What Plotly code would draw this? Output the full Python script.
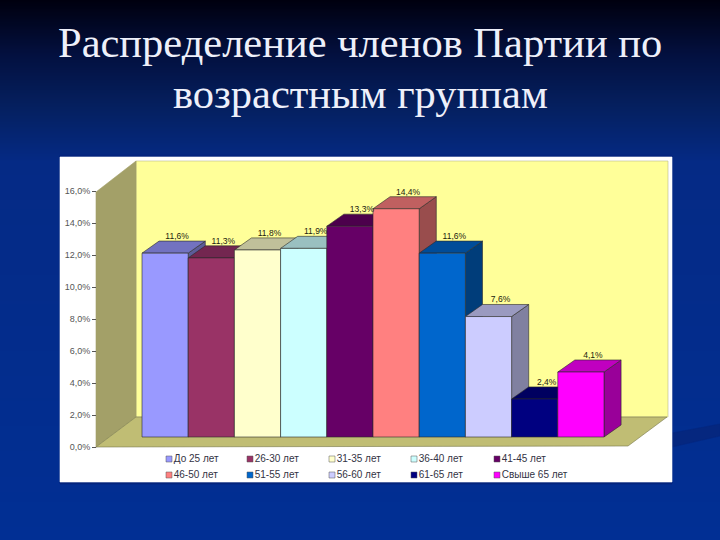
import plotly.graph_objects as go

categories = ["До 25 лет", "26-30 лет", "31-35 лет", "36-40 лет", "41-45 лет",
              "46-50 лет", "51-55 лет", "56-60 лет", "61-65 лет", "Свыше 65 лет"]
values = [11.6, 11.3, 11.8, 11.9, 13.3, 14.4, 11.6, 7.6, 2.4, 4.1]
value_labels = ["11,6%", "11,3%", "11,8%", "11,9%", "13,3%", "14,4%", "11,6%", "7,6%", "2,4%", "4,1%"]
front_colors = ["#9999ff", "#993366", "#ffffcc", "#ccffff", "#660066",
                "#ff8080", "#0066cc", "#ccccff", "#000080", "#ff00ff"]
top_colors = ["#7272c0", "#732650", "#c0c09a", "#9ac0c0", "#4c004c",
              "#c06060", "#004c99", "#9a9ac0", "#000060", "#c000c0"]
side_colors = ["#5c5c99", "#5c1f3d", "#99997a", "#7a9999", "#3d003d",
               "#994d4d", "#003d7a", "#8080a0", "#00004d", "#990099"]
y_ticks = [0, 2, 4, 6, 8, 10, 12, 14, 16]
y_tick_labels = ["0,0%", "2,0%", "4,0%", "6,0%", "8,0%", "10,0%", "12,0%", "14,0%", "16,0%"]
bg_stops = [[0, "#00000f"], [0.1, "#03103f"], [0.2, "#052060"], [0.3, "#052a85"], [1, "#012f94"]]
legend_cols = [169, 250, 332, 414, 497]
legend_rows = [459, 475]
depth_x = 0.37
depth_y = 0.76

W, H = 720, 540
EDGE = "#2a2a2a"
BAR_W = 46.2       # pixels per category
BAR_PX_PCT = 15.85 # pixels per percent on the bar plane
AXIS_PX_PCT = 16   # pixels per percent on the front axis

def py(y): return 1 - y / H

fig = go.Figure()

# page background gradient (pixel-scaled base axes)
fig.add_trace(go.Heatmap(z=[[r] for r in range(H)], x0=W / 2, dx=W, y0=0.5, dy=1,
                         colorscale=bg_stops, showscale=False, hoverinfo="skip", xaxis="x", yaxis="y"))

def poly(xs, ys, color, line=None):
    fig.add_trace(go.Scatter(x=xs + xs[:1], y=ys + ys[:1], fill="toself", mode="lines", fillcolor=color,
                             line=dict(color=line or color, width=0.6), showlegend=False,
                             hoverinfo="skip", xaxis="x", yaxis="y"))

poly([672, 720, 720, 672], [433, 424, 436, 447], "#05277f")
poly([60, 672, 672, 60], [484, 484, 155, 155], "#04247c")
poly([60, 672, 672, 60], [157, 157, 482, 482], "#ffffff")
poly([136, 668, 668, 136], [161, 161, 417, 417], "#ffff99", "#b8b88a")
poly([96, 136, 136, 96], [192, 161, 417, 447], "#a3a068")
poly([96, 136, 667, 628], [447, 417, 417, 446], "#c0bd74", "#77774a")

# depth faces of each bar
for i, v in enumerate(values):
    fig.add_trace(go.Scatter(x=[i + .5, i + .5 + depth_x, i + .5 + depth_x, i + .5, i + .5],
                             y=[0, depth_y, v + depth_y, v, 0], fill="toself", mode="lines",
                             fillcolor=side_colors[i], line=dict(color=EDGE, width=0.6),
                             showlegend=False, hoverinfo="skip", xaxis="x2", yaxis="y2"))
    fig.add_trace(go.Scatter(x=[i - .5, i - .5 + depth_x, i + .5 + depth_x, i + .5, i - .5],
                             y=[v, v + depth_y, v + depth_y, v, v], fill="toself", mode="lines",
                             fillcolor=top_colors[i], line=dict(color=EDGE, width=0.6),
                             showlegend=False, hoverinfo="skip", xaxis="x2", yaxis="y2"))

# front faces
for i, (c, v) in enumerate(zip(categories, values)):
    fig.add_trace(go.Bar(x=[i], y=[v], width=1, name=c, showlegend=False,
                         marker=dict(color=front_colors[i], line=dict(color=EDGE, width=0.6)),
                         xaxis="x3", yaxis="y3", hoverinfo="skip"))

# value labels
fig.add_trace(go.Scatter(x=[i + 0.26 for i in range(len(values))], y=[v + depth_y for v in values],
                         text=value_labels, mode="text", textposition="top center",
                         textfont=dict(family="Liberation Sans", size=8.5, color="#22220f"),
                         showlegend=False, hoverinfo="skip", xaxis="x3", yaxis="y3"))

# legend keys and their texts
for i, c in enumerate(categories):
    fig.add_trace(go.Scatter(x=[legend_cols[i % 5]], y=[legend_rows[i // 5]], text=[c], mode="markers+text",
                             textposition="middle right",
                             textfont=dict(family="Liberation Sans", size=10, color="#333344"),
                             marker=dict(symbol="square", size=6, color=front_colors[i],
                                         line=dict(color="#555555", width=0.5)),
                             name=c, showlegend=False, hoverinfo="skip", xaxis="x", yaxis="y"))

# carrier of the value axis
fig.add_trace(go.Scatter(x=[0], y=[0], mode="markers", marker=dict(opacity=0), showlegend=False,
                         hoverinfo="skip", xaxis="x4", yaxis="y4"))

# overlaid axes share the full-page domain, so their ranges place the scales
bars_x = dict(range=[(0 - 142) / BAR_W - 0.5, (W - 142) / BAR_W - 0.5], visible=False, fixedrange=True)
bars_y = dict(range=[(437 - H) / BAR_PX_PCT, 437 / BAR_PX_PCT], visible=False, fixedrange=True)

fig.update_layout(
    width=W, height=H, margin=dict(l=0, r=0, t=0, b=0), autosize=False,
    paper_bgcolor="#012f94", plot_bgcolor="rgba(0,0,0,0)", barmode="overlay", showlegend=False,
    xaxis=dict(range=[0, W], domain=[0, 1], visible=False, fixedrange=True, anchor="y"),
    yaxis=dict(range=[H, 0], domain=[0, 1], visible=False, fixedrange=True, anchor="x"),
    xaxis2=dict(**bars_x, anchor="y2", overlaying="x"),
    yaxis2=dict(**bars_y, anchor="x2", overlaying="y"),
    xaxis3=dict(**bars_x, anchor="y3", overlaying="x"),
    yaxis3=dict(**bars_y, anchor="x3", overlaying="y"),
    xaxis4=dict(range=[0, 1], visible=False, anchor="y4", overlaying="x"),
    yaxis4=dict(range=[(447 - H) / AXIS_PX_PCT, 447 / AXIS_PX_PCT], anchor="free", position=96 / W, side="left",
                tickvals=y_ticks, ticktext=y_tick_labels, ticks="outside", ticklen=4, tickcolor="#555555",
                showgrid=False, zeroline=False, showline=False, overlaying="y",
                tickfont=dict(family="Liberation Sans", size=9, color="#555555")),
    annotations=[
        dict(text="Распределение членов Партии по", x=0.5, y=py(43), xref="paper", yref="paper",
             xanchor="center", yanchor="middle", showarrow=False,
             font=dict(family="Liberation Serif", size=42.5, color="#eef0fa")),
        dict(text="возрастным группам", x=0.5, y=py(93), xref="paper", yref="paper",
             xanchor="center", yanchor="middle", showarrow=False,
             font=dict(family="Liberation Serif", size=42.5, color="#eef0fa")),
    ],
)

fig.write_html("out.html", config=dict(displayModeBar=False),
               post_script="document.body.style.margin='0';document.body.style.overflow='hidden';")
